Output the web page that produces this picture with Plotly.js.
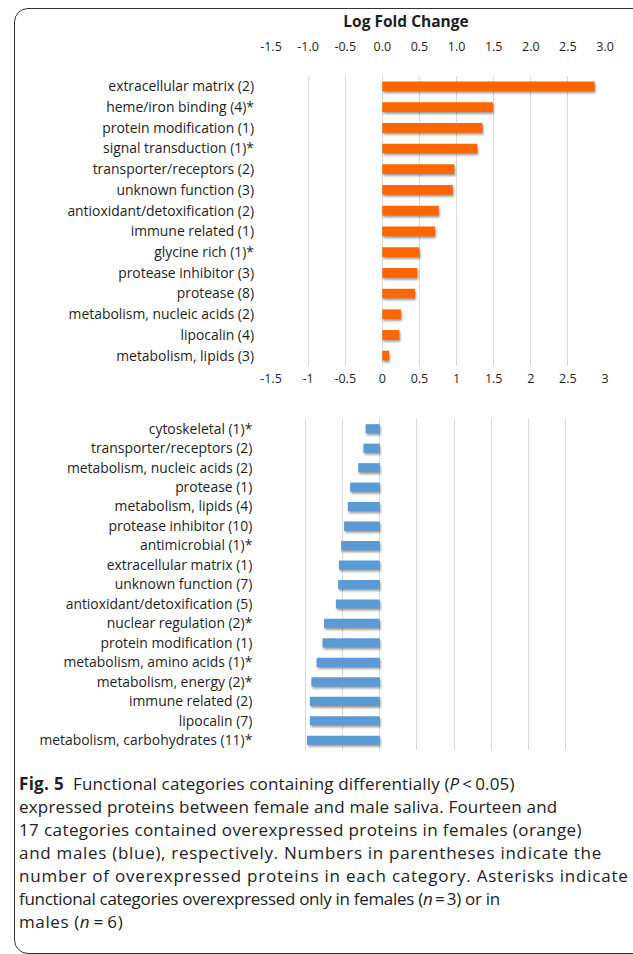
<!DOCTYPE html>
<html>
<head>
<meta charset="utf-8">
<script src="https://cdn.plot.ly/plotly-3.0.1.min.js"></script>
<style>
  html, body { margin: 0; padding: 0; background: #fff; }
  #wrap { position: relative; width: 633px; height: 954px; overflow: hidden; }
  #chart { position: absolute; left: 0; top: 0; width: 633px; height: 954px; }
  #frame { position: absolute; left: 14px; top: 8px; width: 650px; height: 946px;
           border: 1.3px solid #333; border-radius: 14px; pointer-events: none; box-sizing: border-box; }
  #caption { position: absolute; left: 19px; top: 772px; font-family: "Open Sans", Lato, sans-serif;
             font-size: 17px; line-height: 23px; color: #222; white-space: nowrap; }
  #caption span { display: block; }
  #caption b { letter-spacing: 0.3px; }
  .barlayer .point path { filter: drop-shadow(1.5px 2px 1.2px rgba(0,0,0,0.38)); }
</style>
</head>
<body>
<div id="wrap">
  <div id="chart"></div>
  <div id="frame"></div>
  <div id="caption"><span style="letter-spacing:0.15px"><b>Fig. 5</b>&nbsp; Functional categories containing differentially (<i>P</i>&thinsp;&lt;&thinsp;0.05)</span><span style="letter-spacing:0.2px">expressed proteins between female and male saliva. Fourteen and</span><span style="letter-spacing:0.4px">17 categories contained overexpressed proteins in females (orange)</span><span style="letter-spacing:0.7px">and males (blue), respectively. Numbers in parentheses indicate the</span><span style="letter-spacing:0.78px">number of overexpressed proteins in each category. Asterisks indicate</span><span style="letter-spacing:-0.3px">functional categories overexpressed only in females (<i>n</i>&thinsp;=&thinsp;3) or in</span><span style="letter-spacing:0.6px">males (<i>n</i>&thinsp;=&thinsp;6)</span></div>
</div>
<script>
// ---- data ----
const femaleCategories = [
  "extracellular matrix (2)", "heme/iron binding (4)*", "protein modification (1)",
  "signal transduction (1)*", "transporter/receptors (2)", "unknown function (3)",
  "antioxidant/detoxification (2)", "immune related (1)", "glycine rich (1)*",
  "protease inhibitor (3)", "protease (8)", "metabolism, nucleic acids (2)",
  "lipocalin (4)", "metabolism, lipids (3)"
];
const femaleValues = [2.86, 1.49, 1.35, 1.28, 0.97, 0.95, 0.76, 0.71, 0.50, 0.47, 0.44, 0.25, 0.23, 0.09];

const maleCategories = [
  "cytoskeletal (1)*", "transporter/receptors (2)", "metabolism, nucleic acids (2)",
  "protease (1)", "metabolism, lipids (4)", "protease inhibitor (10)", "antimicrobial (1)*",
  "extracellular matrix (1)", "unknown function (7)", "antioxidant/detoxification (5)",
  "nuclear regulation (2)*", "protein modification (1)", "metabolism, amino acids (1)*",
  "metabolism, energy (2)*", "immune related (2)", "lipocalin (7)",
  "metabolism, carbohydrates (11)*"
];
const maleValues = [-0.19, -0.22, -0.29, -0.40, -0.43, -0.48, -0.52, -0.55, -0.56, -0.59,
                    -0.75, -0.77, -0.85, -0.92, -0.94, -0.94, -0.98];

const tickValues = [-1.5, -1.0, -0.5, 0, 0.5, 1.0, 1.5, 2.0, 2.5, 3.0];
const topTickText = ["-1.5", "-1.0", "-0.5", "0.0", "0.5", "1.0", "1.5", "2.0", "2.5", "3.0"];
const bottomTickText = ["-1.5", "-1", "-0.5", "0", "0.5", "1", "1.5", "2", "2.5", "3"];
const axisTitle = "Log Fold Change";

// ---- layout helpers ----
const W = 633, H = 954;
const px = v => v / W;
const py = v => 1 - v / H;
const labelFont = { family: "'Open Sans', Lato, sans-serif", size: 13.9, color: "#1e1e1e" };
const tickFont = { family: "'Open Sans', Lato, sans-serif", size: 12.5, color: "#1e1e1e" };
const grid = "#d9d9d9";

const traces = [
  {
    type: "bar", orientation: "h", x: femaleValues, y: femaleCategories,
    xaxis: "x", yaxis: "y", marker: { color: "#ff6600" }, hoverinfo: "x+y"
  },
  {
    type: "bar", orientation: "h", x: maleValues, y: maleCategories,
    xaxis: "x2", yaxis: "y2", marker: { color: "#5b9bd5" }, hoverinfo: "x+y"
  },
  {
    type: "scatter", mode: "none", x: [tickValues[0], tickValues[tickValues.length - 1]],
    y: [femaleCategories[0], femaleCategories[0]], xaxis: "x3", yaxis: "y",
    hoverinfo: "skip", showlegend: false
  }
];

const layout = {
  width: W, height: H,
  margin: { l: 0, r: 0, t: 0, b: 0 },
  paper_bgcolor: "rgba(0,0,0,0)", plot_bgcolor: "rgba(0,0,0,0)",
  showlegend: false,
  bargap: 0.53,
  font: labelFont,
  title: {
    text: "<b>" + axisTitle + "</b>",
    font: { family: "'Open Sans', Lato, sans-serif", size: 15.5, color: "#1e1e1e" },
    x: px(406), xanchor: "center", xref: "paper",
    y: py(22), yanchor: "middle", yref: "paper"
  },
  xaxis: {
    domain: [px(271), px(605)], range: [-1.5, 3.0],
    tickmode: "array", tickvals: tickValues, ticktext: bottomTickText,
    showgrid: true, gridcolor: grid, gridwidth: 1, zeroline: false,
    showline: false, ticks: "outside", ticklen: 1, tickcolor: "rgba(0,0,0,0)",
    anchor: "y", side: "bottom", tickfont: tickFont, fixedrange: true
  },
  xaxis3: {
    overlaying: "x", range: [-1.5, 3.0], anchor: "free", position: py(53), side: "top",
    tickmode: "array", tickvals: tickValues, ticktext: topTickText,
    showgrid: false, zeroline: false, showline: false, ticks: "",
    tickfont: tickFont, fixedrange: true
  },
  yaxis: {
    domain: [py(366), py(76)], range: [femaleCategories.length - 0.5, -0.5],
    type: "category", showgrid: false, zeroline: false, showline: false, ticks: "",
    ticklabelstandoff: 16, tickfont: labelFont, anchor: "x", fixedrange: true
  },
  xaxis2: {
    domain: [px(268.3), px(602.7)], range: [-1.5, 3.0],
    tickmode: "array", tickvals: tickValues, showticklabels: false,
    showgrid: true, gridcolor: grid, gridwidth: 1, zeroline: false, showline: false,
    ticks: "", anchor: "y2", fixedrange: true
  },
  yaxis2: {
    domain: [py(750), py(419)], range: [maleCategories.length - 0.5, -0.5],
    type: "category", showgrid: false, zeroline: false, showline: false, ticks: "",
    ticklabelstandoff: 15, tickfont: labelFont, anchor: "x2", fixedrange: true
  }
};

Plotly.newPlot("chart", traces, layout, { displayModeBar: false, staticPlot: true });
</script>
</body>
</html>
